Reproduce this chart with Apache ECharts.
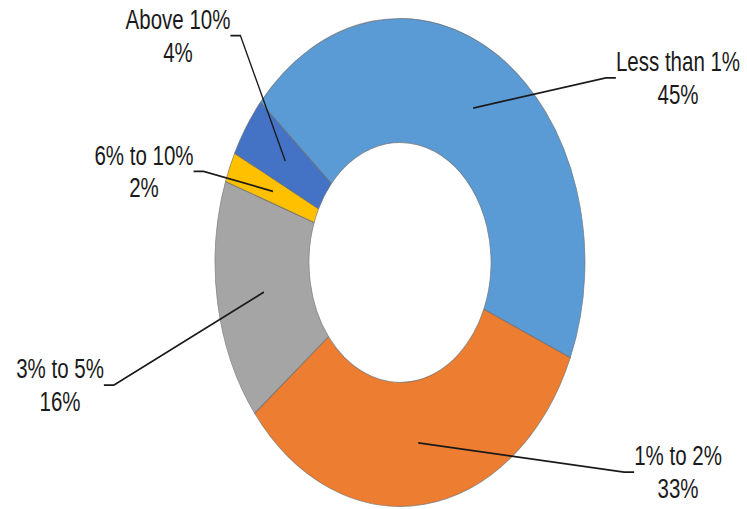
<!DOCTYPE html>
<html><head><meta charset="utf-8">
<script src="https://cdn.jsdelivr.net/npm/echarts@6/dist/echarts.min.js"></script>
<style>
html,body{margin:0;padding:0;background:#fff;overflow:hidden}
#wrap{width:747px;height:509px;overflow:hidden;background:#fff}
/* the doughnut is drawn round and then stretched into its tall oval */
#chart{width:747px;height:386px;transform:scaleY(1.3187);transform-origin:0 0}
</style></head><body>
<div id="wrap"><div id="chart"></div></div>
<script>
const categories = ['Less than 1%', '1% to 2%', '3% to 5%', '6% to 10%', 'Above 10%'];
const shares = [45, 33, 16, 2, 4];
const sliceColors = ['#5B9BD5', '#ED7D31', '#A5A5A5', '#FFC000', '#4472C4'];
// centre of each label block, in the unstretched drawing space
const labelSpots = [[678, 59], [678, 358], [60, 292], [144, 130], [178, 27]];

const data = categories.map((name, i) => ({ name, value: shares[i] }));

const chart = echarts.init(document.getElementById('chart'), null, { renderer: 'svg' });
const centre = [400, 199];

chart.setOption({
  animation: false,
  backgroundColor: '#fff',
  color: sliceColors,
  series: [
    {
      type: 'pie',
      z: 1,
      center: centre,
      radius: [91, 185],
      startAngle: 139,
      clockwise: true,
      silent: true,
      label: { show: false },
      labelLine: { show: false },
      itemStyle: { borderColor: 'rgba(110,110,110,0.7)', borderWidth: 0.8 },
      data: data
    },
    {
      // transparent twin ring: its labels and leader lines start mid-ring
      type: 'pie',
      z: 5,
      zlevel: 1,
      center: centre,
      radius: [91, 138],
      startAngle: 139,
      clockwise: true,
      silent: true,
      itemStyle: { color: 'rgba(0,0,0,0)', borderWidth: 0 },
      label: {
        show: true,
        position: 'outside',
        formatter: '{b}\n{c}%',
        fontFamily: 'Liberation Sans, Arial, sans-serif',
        fontSize: 20.5,
        lineHeight: 25,
        color: '#1a1a1a',
        align: 'center'
      },
      labelLine: { show: true, length: 10, length2: 10, smooth: false,
        lineStyle: { color: '#1a1a1a', width: 1.3 } },
      labelLayout: function (p) {
        const s = labelSpots[p.dataIndex];
        return { x: s[0], y: s[1], align: 'center', verticalAlign: 'middle' };
      },
      data: data
    }
  ]
});
</script>
</body></html>
